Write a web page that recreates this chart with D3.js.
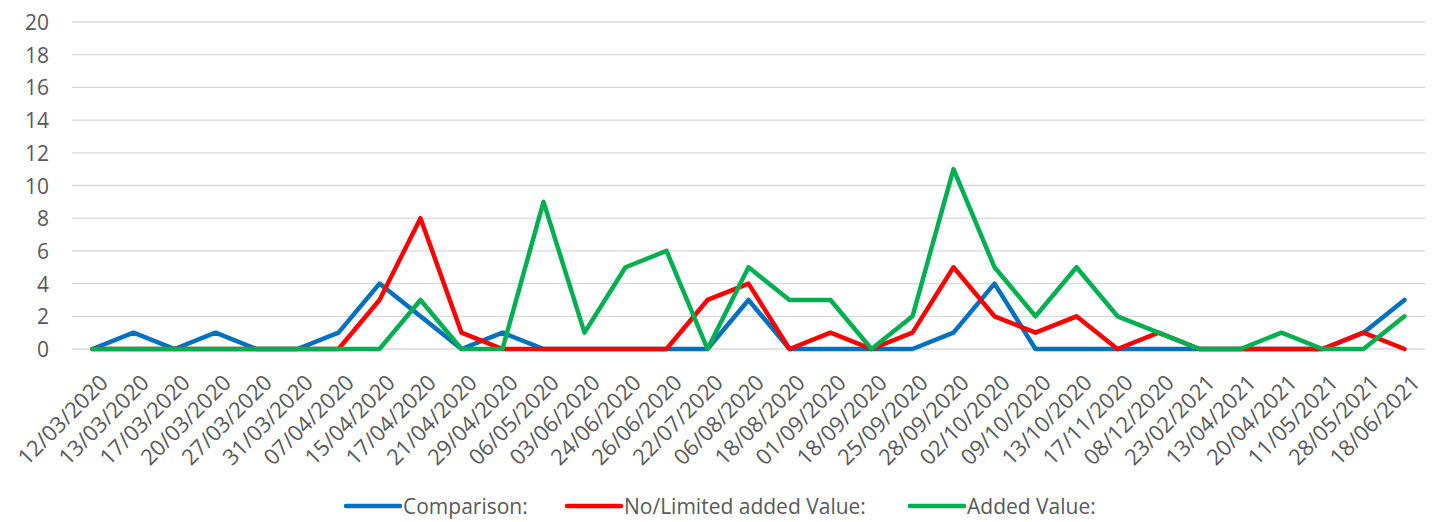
<!DOCTYPE html>
<html>
<head>
<meta charset="utf-8">
<script src="https://cdn.jsdelivr.net/npm/d3@7"></script>
<style>
  body { margin: 0; background: #fff; }
  .chart text { font-family: 'Open Sans', 'Noto Sans', sans-serif; fill: #595959; }
</style>
</head>
<body>
<div class="chart"></div>
<script>
const dates = ['12/03/2020', '13/03/2020', '17/03/2020', '20/03/2020', '27/03/2020', '31/03/2020',
  '07/04/2020', '15/04/2020', '17/04/2020', '21/04/2020', '29/04/2020', '06/05/2020', '03/06/2020',
  '24/06/2020', '26/06/2020', '22/07/2020', '06/08/2020', '18/08/2020', '01/09/2020', '18/09/2020',
  '25/09/2020', '28/09/2020', '02/10/2020', '09/10/2020', '13/10/2020', '17/11/2020', '08/12/2020',
  '23/02/2021', '13/04/2021', '20/04/2021', '11/05/2021', '28/05/2021', '18/06/2021']

const comparison = [0, 1, 0, 1, 0, 0, 1, 4, 2, 0, 1, 0, 0, 0, 0, 0, 3, 0, 0, 0, 0, 1, 4, 0, 0, 0, 0, 0, 0, 0, 0, 1, 3]
const limitedValue = [0, 0, 0, 0, 0, 0, 0, 3, 8, 1, 0, 0, 0, 0, 0, 3, 4, 0, 1, 0, 1, 5, 2, 1, 2, 0, 1, 0, 0, 0, 0, 1, 0]
const addedValue = [0, 0, 0, 0, 0, 0, 0, 0, 3, 0, 0, 9, 1, 5, 6, 0, 5, 3, 3, 0, 2, 11, 5, 2, 5, 2, 1, 0, 0, 1, 0, 0, 2]

const yTicks = [0, 2, 4, 6, 8, 10, 12, 14, 16, 18, 20]

const series = [
  { name: 'Comparison:', values: comparison, color: '#0070c0' },
  { name: 'No/Limited added Value:', values: limitedValue, color: '#ff0000' },
  { name: 'Added Value:', values: addedValue, color: '#00b050' }
]

const width = 1434
const height = 522
const plotLeft = 72
const plotRight = 1425
const plotTop = 22
const plotBottom = 349

const svg = d3.select('.chart').append('svg')
  .attr('width', width)
  .attr('height', height)

const x = d3.scaleBand()
  .domain(dates)
  .range([plotLeft, plotRight])

const y = d3.scaleLinear()
  .domain([0, 20])
  .range([plotBottom, plotTop])

// gridlines
svg.append('g')
  .selectAll('line')
  .data(yTicks)
  .enter()
  .append('line')
  .attr('x1', plotLeft)
  .attr('x2', plotRight)
  .attr('y1', d => y(d))
  .attr('y2', d => y(d))
  .attr('stroke', '#d9d9d9')
  .attr('stroke-width', 1.3)

// y axis labels
const yAxis = svg.append('g')
  .attr('transform', `translate(${plotLeft - 23},0)`)
  .call(d3.axisLeft(y).tickValues(yTicks).tickSize(0).tickPadding(0))
yAxis.select('.domain').remove()
yAxis.selectAll('text')
  .style('font-size', '21px')
  .attr('dy', '0.36em')

// x axis labels, rotated 45 degrees
const xAxis = svg.append('g')
  .attr('transform', `translate(0,${plotBottom})`)
  .call(d3.axisBottom(x).tickSize(0).tickPadding(0))
xAxis.select('.domain').remove()
xAxis.selectAll('text')
  .style('font-size', '22px')
  .attr('text-anchor', 'end')
  .attr('y', 0)
  .attr('dy', '0')
  .attr('transform', 'translate(17,35) rotate(-45)')

const line = d3.line()
  .x((d, i) => x(dates[i]) + x.bandwidth() / 2)
  .y(d => y(d))

svg.append('g')
  .selectAll('path')
  .data(series)
  .enter()
  .append('path')
  .attr('d', d => line(d.values))
  .attr('fill', 'none')
  .attr('stroke', d => d.color)
  .attr('stroke-width', 4.5)
  .attr('stroke-linejoin', 'round')
  .attr('stroke-linecap', 'round')

// legend
const legendX = [346, 567, 910]
const legend = svg.append('g')
  .selectAll('g')
  .data(series)
  .enter()
  .append('g')
  .attr('transform', (d, i) => `translate(${legendX[i]},506)`)

legend.append('line')
  .attr('x1', 0)
  .attr('x2', 54)
  .attr('stroke', d => d.color)
  .attr('stroke-width', 4.5)
  .attr('stroke-linecap', 'round')

legend.append('text')
  .attr('x', 57)
  .attr('dy', '0.36em')
  .style('font-size', '21px')
  .text(d => d.name)
</script>
</body>
</html>
